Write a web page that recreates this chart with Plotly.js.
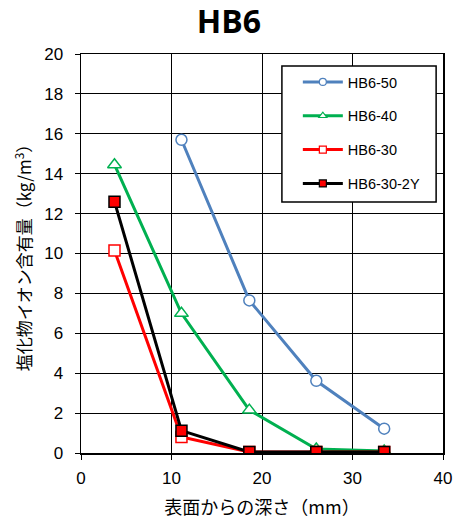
<!DOCTYPE html>
<html>
<head>
<meta charset="utf-8">
<script src="https://cdn.plot.ly/plotly-3.0.1.min.js"></script>
<style>html,body{margin:0;padding:0;background:#fff;}#chart{width:458px;height:520px;}</style>
</head>
<body>
<div id="chart"></div>
<script>
const depth = [3.7, 11.1, 18.6, 26.0, 33.5];
const depth50 = [11.1, 18.6, 26.0, 33.5];
const hb650 = [15.7, 7.65, 3.62, 1.22];
const hb640 = [14.45, 7.0, 2.15, 0.2, 0.1];
const hb630 = [10.15, 0.8, 0.05, 0.05, 0.05];
const hb6302y = [12.6, 1.12, 0.05, 0.05, 0.05];
const names = ["HB6-50", "HB6-40", "HB6-30", "HB6-30-2Y"];

const styles = [
  {line: "#4f81bd", symbol: "circle", fill: "#ffffff", edge: "#4f81bd"},
  {line: "#00b050", symbol: "triangle-up", fill: "#ffffff", edge: "#00b050"},
  {line: "#ff0000", symbol: "square", fill: "#ffffff", edge: "#ff0000"},
  {line: "#000000", symbol: "square", fill: "#ff0000", edge: "#000000"}
];
const xs = [depth50, depth, depth, depth];
const ys = [hb650, hb640, hb630, hb6302y];
const sizes = [11, 12, 11, 11];

const traces = [];
for (let i = 0; i < 4; i++) {
  const s = styles[i];
  traces.push({x: xs[i], y: ys[i], name: names[i], showlegend: false, mode: "lines+markers",
    line: {color: s.line, width: 3},
    marker: {symbol: s.symbol, size: sizes[i], color: s.fill, line: {color: s.edge, width: 1.5}}});
}
for (let i = 0; i < 4; i++) {
  const s = styles[i];
  traces.push({x: [null], y: [null], name: names[i], legendgroup: "g" + i, showlegend: true,
    mode: "lines+markers", line: {color: s.line, width: 3},
    marker: {symbol: s.symbol, size: 7, color: s.fill, line: {color: s.edge, width: 1.2}}});
}

const layout = {
  width: 458, height: 520,
  margin: {l: 81, r: 15, t: 54, b: 67},
  paper_bgcolor: "#ffffff", plot_bgcolor: "#ffffff",
  font: {family: "Liberation Sans, Arial, sans-serif", color: "#000", size: 16},
  title: {text: "<b>HB6</b>", x: 0.5, xanchor: "center", y: 0.958, yanchor: "middle",
          font: {family: "Open Sans, sans-serif", size: 32, color: "#000"}},
  xaxis: {range: [0, 40], dtick: 10, tick0: 0, showgrid: true, gridcolor: "#000", gridwidth: 1,
          showline: true, linecolor: "#000", linewidth: 1.5, mirror: true,
          ticks: "outside", ticklen: 5, tickcolor: "#000", zeroline: false,
          tickfont: {size: 17}, ticklabelstandoff: 4,
          title: {text: "表面からの深さ（mm）", standoff: 14,
                  font: {family: "Noto Sans CJK JP, sans-serif", size: 18}}},
  yaxis: {range: [0, 20], dtick: 2, tick0: 0, showgrid: true, gridcolor: "#000", gridwidth: 1,
          showline: true, linecolor: "#000", linewidth: 1.5, mirror: true,
          ticks: "outside", ticklen: 5, tickcolor: "#000", zeroline: false,
          tickfont: {size: 17}, ticklabelstandoff: 8,
          title: {text: "塩化物イオン含有量<span style=\"font-size:17px\">（kg/m<sup>3</sup>）</span>", standoff: 8,
                  font: {family: "Noto Sans CJK JP, sans-serif", size: 17}}},
  shapes: [{type: "rect", xref: "paper", yref: "paper", x0: 0.555, x1: 0.981, y0: 0.629, y1: 0.970,
            fillcolor: "#ffffff", line: {color: "#000", width: 1.5}, layer: "above"}],
  showlegend: true,
  legend: {x: 0.599, y: 0.97, xanchor: "left", yanchor: "top",
           bgcolor: "rgba(0,0,0,0)", borderwidth: 0,
           font: {family: "Liberation Sans, Arial, sans-serif", size: 14.5},
           tracegroupgap: 12, itemwidth: 40, traceorder: "grouped"}
};

Plotly.newPlot("chart", traces, layout, {displayModeBar: false, staticPlot: true});
</script>
</body>
</html>
